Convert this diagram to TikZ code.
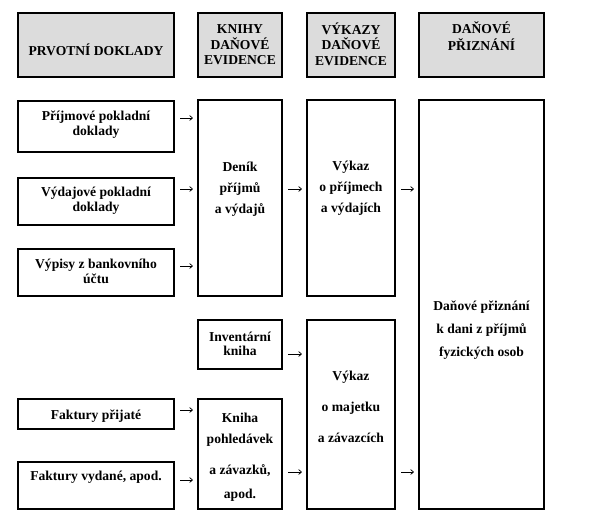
\documentclass[tikz,border=0pt]{standalone}
\usepackage{fontspec}
\setmainfont{Liberation Serif}
\usetikzlibrary{arrows.meta}
\definecolor{hdr}{HTML}{DCDCDC}
\newcommand\mybox[6][]{\node[box,#1,minimum width={(#4-#2)*0.75pt},minimum height={(#5-#3)*0.75pt}] (#6) at ({(#2+#4)/2},{(#3+#5)/2}) {};}
\begin{document}
\begin{tikzpicture}[x=0.75pt,y=-0.75pt,
 box/.style={draw, line width=1.7pt, inner sep=0pt},
 hbox/.style={box, fill=hdr},
 txt/.style={font=\fontsize{10.2}{#1}\selectfont\bfseries, align=center, inner sep=0pt},
 txt/.default=11.5,
 arr/.style={-{To[length=2.6pt,width=4pt]}, line width=0.55pt, shorten <=4pt, shorten >=3pt}]
\useasboundingbox (0,0) rectangle (596,526);
% boxes
\mybox[hbox]{18}{13}{174}{77}{h1}
\mybox[hbox]{198}{13}{282}{77}{h2}
\mybox[hbox]{307}{13}{395}{77}{h3}
\mybox[hbox]{419}{13}{544}{77}{h4}
\mybox[box]{18}{101}{174}{152}{p1}
\mybox[box]{18}{178}{174}{225}{p2}
\mybox[box]{18}{249}{174}{296}{p3}
\mybox[box]{198}{100}{282}{296}{d}
\mybox[box]{307}{100}{395}{296}{v1}
\mybox[box]{419}{100}{544}{509}{dp}
\mybox[box]{198}{320}{282}{369}{inv}
\mybox[box]{18}{399}{174}{429}{fp}
\mybox[box]{18}{462}{174}{509}{fv}
\mybox[box]{198}{399}{282}{509}{k}
\mybox[box]{307}{320}{395}{509}{vm}
% texts
\node[txt] (h1t) at (96,50) {PRVOTNÍ DOKLADY};
\node[txt=11.6] (h2t) at (240,45) {KNIHY\\DAŇOVÉ\\EVIDENCE};
\node[txt=11.6] (h3t) at (351,44) {VÝKAZY\\DAŇOVÉ\\EVIDENCE};
\node[txt=12.5] (h4t) at (481.5,36) {DAŇOVÉ\\PŘIZNÁNÍ};
\node[txt=11.25] (p1t) at (96,125) {Příjmové pokladní\\doklady};
\node[txt=11.25] (p2t) at (96,201) {Výdajové pokladní\\doklady};
\node[txt=11.25] (p3t) at (96,271) {Výpisy z bankovního\\účtu};
\node[txt=15.6] (dt) at (240,189) {Deník\\příjmů\\a výdajů};
\node[txt=15.6] (v1t) at (351,188) {Výkaz\\o příjmech\\a výdajích};
\node[txt=17] (dpt) at (481.5,330) {Daňové přiznání\\k dani z příjmů\\fyzických osob};
\node[txt=10.5] (invt) at (240,344) {Inventární\\kniha};
\node[txt] (fpt) at (96,416) {Faktury přijaté};
\node[txt] (fvt) at (96,477) {Faktury vydané, apod.};
\node[txt=15.75] (kt) at (240,457) {Kniha\\pohledávek\\[7.5pt]a závazků,\\[2.25pt]apod.};
\node[txt=23.25] (vmt) at (351,407) {Výkaz\\o majetku\\a závazcích};
% arrows
\draw[arr] (p1.east |- 0,118) -- (d.west |- 0,118);
\draw[arr] (p2.east |- 0,189) -- (d.west |- 0,189);
\draw[arr] (p3.east |- 0,266) -- (d.west |- 0,266);
\draw[arr] (d.east |- 0,189) -- (v1.west |- 0,189);
\draw[arr] (v1.east |- 0,189) -- (dp.west |- 0,189);
\draw[arr] (inv.east |- 0,354) -- (vm.west |- 0,354);
\draw[arr] (fp.east |- 0,410) -- (k.west |- 0,410);
\draw[arr] (fv.east |- 0,480) -- (k.west |- 0,480);
\draw[arr] (k.east |- 0,472) -- (vm.west |- 0,472);
\draw[arr] (vm.east |- 0,472) -- (dp.west |- 0,472);
\end{tikzpicture}
\end{document}
